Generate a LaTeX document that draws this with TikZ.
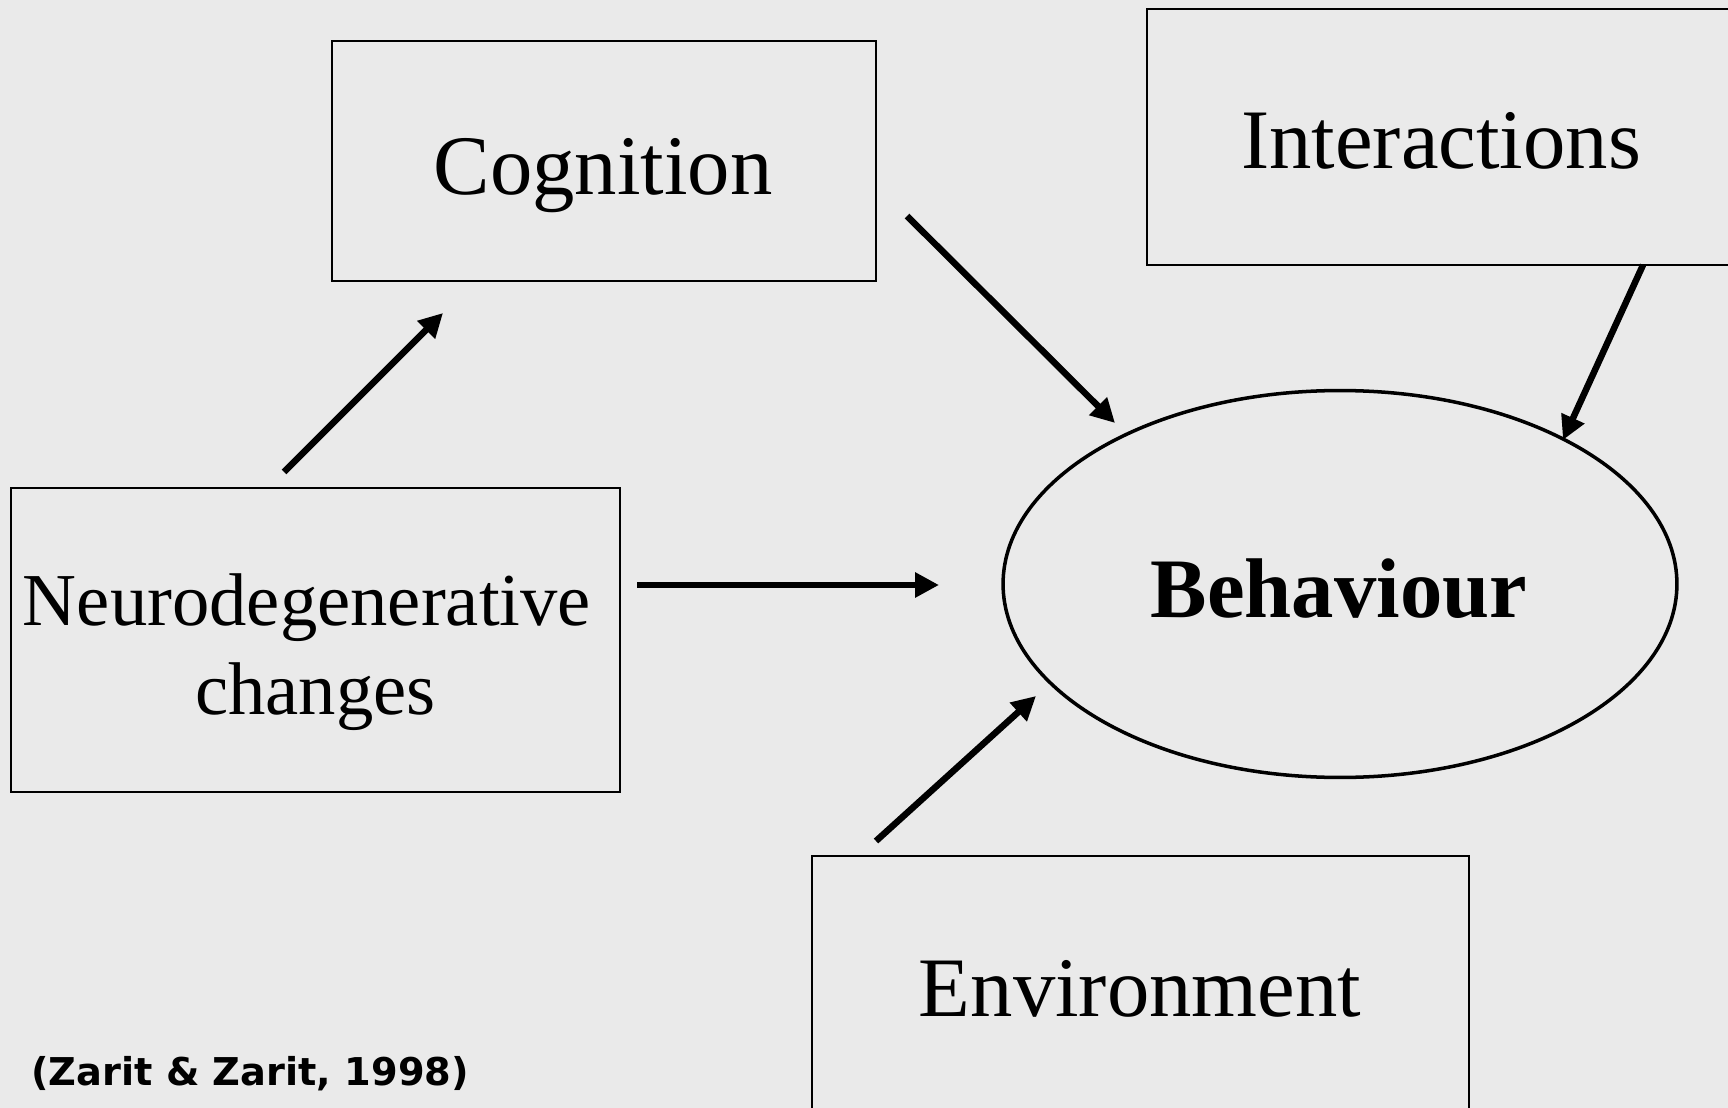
\documentclass[tikz,border=0pt]{standalone}
\usepackage{fontspec}
\setmainfont{Liberation Serif}
\newfontfamily\citefont{DejaVu Sans}
\usetikzlibrary{arrows.meta,shapes.geometric}
\definecolor{slidebg}{RGB}{234,234,234}

\begin{document}
\begin{tikzpicture}[x=0.02cm,y=-0.02cm,
    box/.style={draw,line width=1.1pt,inner sep=0pt},
    word/.style={anchor=base,inner sep=0pt,font=\fontsize{48.2pt}{58pt}\selectfont},
    conn/.style={line width=3.7pt,-{Triangle[length=0.48cm,width=0.48cm]}}]

   \useasboundingbox (0,0) rectangle (1728,1108);
   \fill[slidebg] (0,0) rectangle (1728,1108);
   \clip (0,0) rectangle (1728,1108);

   % boxes
   \node[box,minimum width=10.88cm,minimum height=4.8cm] (cog) at (604,161) {};
   \node[box,minimum width=11.76cm,minimum height=5.12cm] (inter) at (1441,137) {};
   \node[box,minimum width=12.18cm,minimum height=6.08cm] (neuro) at (315.5,640) {};
   \node[box,minimum width=13.14cm,minimum height=5.28cm] (env) at (1140.5,988) {};
   \node[ellipse,draw,line width=2pt,inner sep=0pt,
         minimum width=13.48cm,minimum height=7.74cm] (beh) at (1340,584) {};

   % texts
   \node[word] (cog-t) at (603,195) {Cognition};
   \node[word] (inter-t) at (1441,169) {Interactions};
   \node[word] (env-t) at (1140,1016) {Environment};
   \node[word,font=\fontsize{48.2pt}{58pt}\selectfont\bfseries] (beh-t) at (1339,617) {Behaviour};
   \node[inner sep=0pt,align=center,font=\fontsize{42.5pt}{51pt}\selectfont]
        (neuro-t) at (307,652) {Neurodegenerative\\\hspace*{0.34cm}changes};
   \node[anchor=base west,inner sep=0pt,font=\citefont\bfseries\fontsize{21.8pt}{26pt}\selectfont]
        (cite) at (31,1085) {(Zarit \& Zarit, 1998)};

   % arrow ends
   \coordinate (n2c-s) at (284,472);
   \coordinate (n2c-e) at (443,313);
   \coordinate (c2b-s) at (907,216);
   \coordinate (c2b-e) at (1115,423);
   \coordinate (i2b-s) at (1643,265);
   \coordinate (i2b-e) at (1563,440);
   \coordinate (n2b-s) at (637,585);
   \coordinate (n2b-e) at (939,585);
   \coordinate (e2b-s) at (876,841);
   \coordinate (e2b-e) at (1036,696);

   \draw[conn] (n2c-s) -- (n2c-e);
   \draw[conn] (c2b-s) -- (c2b-e);
   \draw[conn] (i2b-s) -- (i2b-e);
   \draw[conn] (n2b-s) -- (n2b-e);
   \draw[conn] (e2b-s) -- (e2b-e);
\end{tikzpicture}
\end{document}
